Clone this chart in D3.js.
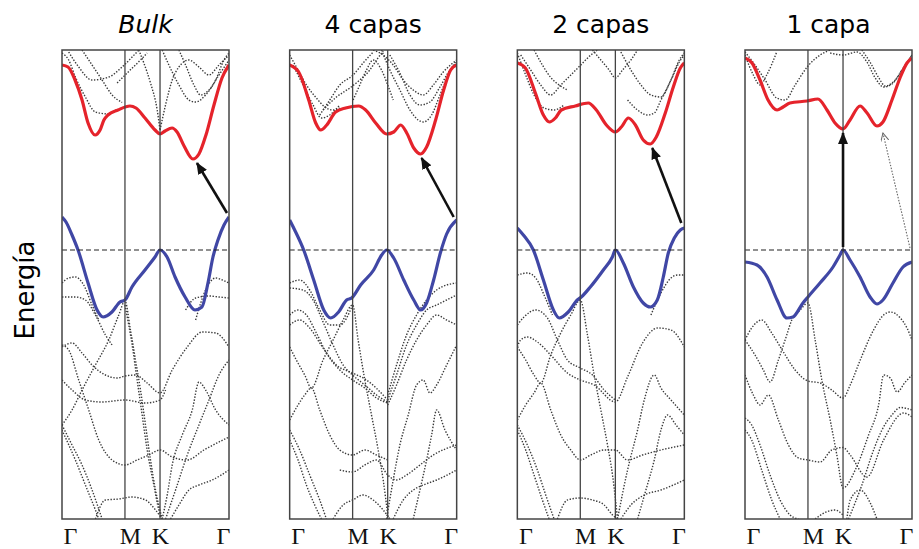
<!DOCTYPE html>
<html>
<head>
<meta charset="utf-8">
<script src="https://cdn.jsdelivr.net/npm/d3@7"></script>
<style>
body { margin: 0; background: #fff; }
</style>
</head>
<body>
<svg class="chart"></svg>
<script>
// k = fraction of the path Γ-M-K-Γ, E in eV (0 = top of valence band)
var kTicks = [0, 0.377, 0.587, 1];
var kLabels = ["Γ", "M", "K", "Γ"];
var titles = ["Bulk", "4 capas", "2 capas", "1 capa"];

var cbBulk = [[0,3.70],[0.036,3.66],[0.078,3.40],[0.12,3.00],[0.156,2.54],[0.198,2.30],[0.228,2.40],[0.251,2.60],[0.275,2.70],[0.335,2.80],[0.407,2.88],[0.443,2.84],[0.497,2.64],[0.557,2.40],[0.587,2.32],[0.617,2.38],[0.659,2.44],[0.689,2.36],[0.731,2.08],[0.784,1.82],[0.82,1.92],[0.862,2.30],[0.91,2.90],[0.958,3.44],[1,3.70]];
var vbBulk = [[0,0.66],[0.024,0.56],[0.06,0.30],[0.096,0.00],[0.156,-0.66],[0.21,-1.20],[0.246,-1.34],[0.299,-1.24],[0.347,-1.04],[0.377,-1.00],[0.419,-0.74],[0.497,-0.40],[0.557,-0.14],[0.587,0.00],[0.629,-0.14],[0.677,-0.54],[0.737,-0.94],[0.796,-1.20],[0.838,-1.14],[0.874,-0.66],[0.904,-0.14],[0.934,0.20],[0.97,0.50],[1,0.66]];
var otherBulk = [
  [[0,3.94],[0.04,3.8],[0.08,3.46],[0.14,3.06],[0.2,2.76],[0.28,2.72],[0.33,2.82]],
  [[0.04,3.96],[0.1,3.66],[0.18,3.4],[0.28,3.46],[0.36,3.66],[0.42,3.86],[0.46,4.0]],
  [[0.12,4.0],[0.18,3.7],[0.24,3.4],[0.3,3.1],[0.36,2.95]],
  [[0.33,3.34],[0.39,3.54],[0.47,3.8],[0.51,3.94]],
  [[0.46,4.0],[0.49,3.74],[0.53,3.34],[0.57,2.8],[0.587,2.4]],
  [[0.587,2.4],[0.62,2.9],[0.66,3.4],[0.7,3.66],[0.76,3.8],[0.82,3.66],[0.88,3.5],[0.94,3.7],[1,3.9]],
  [[0.6,4.0],[0.64,3.7],[0.7,3.3],[0.76,3.0],[0.8,2.96],[0.86,3.1],[0.92,3.4],[0.97,3.8],[1,3.94]],
  [[0.7,4.0],[0.74,3.7],[0.79,3.3],[0.83,3.1],[0.88,3.2],[0.94,3.5],[1,3.8]],
  [[0,-0.66],[0.04,-0.56],[0.08,-0.54],[0.13,-0.7],[0.18,-1.1],[0.22,-1.4]],
  [[0,-0.94],[0.08,-0.94],[0.14,-1.0],[0.2,-1.3],[0.26,-1.7],[0.3,-1.9]],
  [[0,-1.94],[0.06,-1.86],[0.12,-2.06],[0.18,-2.3],[0.26,-2.5],[0.33,-2.56],[0.377,-2.52],[0.44,-2.5],[0.51,-2.66],[0.587,-2.86],[0.66,-2.4],[0.75,-1.94],[0.84,-1.64],[0.92,-1.66],[1,-1.94]],
  [[0,-3.5],[0.06,-3.2],[0.12,-2.8],[0.2,-2.3],[0.28,-1.8],[0.34,-1.3],[0.377,-1.02],[0.41,-1.6],[0.44,-2.2],[0.47,-2.8],[0.5,-3.5],[0.53,-4.2],[0.56,-4.8],[0.6,-5.38]],
  [[0.377,-1.1],[0.42,-1.9],[0.45,-2.6],[0.48,-3.3],[0.51,-4.0],[0.55,-4.7],[0.58,-5.2],[0.6,-5.38]],
  [[0,-1.9],[0.04,-2.0],[0.1,-2.6],[0.16,-3.2],[0.22,-3.8],[0.3,-4.2],[0.377,-4.3],[0.45,-4.2],[0.52,-4.1],[0.587,-4.0],[0.66,-4.14],[0.75,-4.2],[0.85,-4.0],[1,-3.74]],
  [[0,-2.6],[0.06,-2.8],[0.14,-3.0],[0.24,-3.04],[0.377,-3.0],[0.5,-3.06],[0.587,-3.0],[0.62,-2.8]],
  [[0,-3.5],[0.06,-3.9],[0.12,-4.3],[0.18,-4.8],[0.24,-5.38]],
  [[0,-3.6],[0.08,-4.2],[0.14,-4.7],[0.2,-5.2],[0.22,-5.38]],
  [[0.2,-5.38],[0.26,-5.0],[0.34,-4.98],[0.42,-4.94],[0.5,-5.0],[0.56,-5.2],[0.6,-5.38]],
  [[0.6,-5.38],[0.63,-4.9],[0.66,-4.3],[0.72,-3.7],[0.78,-3.2],[0.82,-2.64],[0.86,-2.8],[0.92,-3.2],[1,-3.5]],
  [[0.62,-5.38],[0.68,-4.8],[0.75,-4.1],[0.82,-3.5],[0.88,-3.0],[0.94,-2.5],[1,-2.2]],
  [[0.65,-5.38],[0.7,-5.1],[0.76,-4.8],[0.82,-4.7],[0.9,-4.6],[1,-4.4]],
  [[0.74,-1.2],[0.8,-0.96],[0.88,-0.92],[0.94,-0.94],[1,-0.96]],
  [[0.8,-1.4],[0.86,-0.8],[0.92,-0.56],[0.96,-0.6],[1,-0.66]]
];
var arrowsBulk = [[[0.988,0.74],[0.808,1.74]]];

var cb4 = [[0,3.70],[0.054,3.56],[0.114,3.00],[0.156,2.54],[0.186,2.40],[0.222,2.50],[0.275,2.76],[0.335,2.84],[0.413,2.88],[0.455,2.80],[0.515,2.54],[0.581,2.32],[0.623,2.36],[0.665,2.50],[0.701,2.34],[0.743,2.04],[0.784,1.92],[0.82,2.06],[0.874,2.60],[0.922,3.20],[0.964,3.60],[1,3.70]];
var vb4 = [[0,0.60],[0.03,0.40],[0.084,0.00],[0.144,-0.60],[0.204,-1.20],[0.246,-1.36],[0.293,-1.24],[0.341,-1.00],[0.371,-0.96],[0.425,-0.70],[0.503,-0.40],[0.551,-0.10],[0.581,0.00],[0.623,-0.16],[0.683,-0.60],[0.743,-1.00],[0.784,-1.20],[0.82,-1.06],[0.862,-0.60],[0.904,-0.04],[0.94,0.32],[1,0.60]];
var other4 = [
  [[0,3.9],[0.05,3.6],[0.1,3.3],[0.16,3.04],[0.21,2.86],[0.26,2.8],[0.3,2.84]],
  [[0.02,3.7],[0.08,3.3],[0.14,2.9],[0.19,2.64],[0.24,2.7],[0.3,2.9]],
  [[0.18,2.7],[0.24,3.0],[0.3,3.3],[0.38,3.5],[0.44,3.74],[0.5,3.96]],
  [[0.2,2.8],[0.28,3.06],[0.36,3.24],[0.42,3.4],[0.48,3.6],[0.52,3.8],[0.56,3.98]],
  [[0.38,3.0],[0.42,3.3],[0.46,3.6],[0.5,3.8],[0.55,3.6],[0.587,3.3],[0.62,3.0]],
  [[0.5,4.0],[0.56,3.9],[0.62,3.7],[0.68,3.4],[0.74,3.2],[0.8,3.1],[0.86,3.3],[0.92,3.56],[1,3.8]],
  [[0.55,4.0],[0.6,3.6],[0.66,3.2],[0.72,2.8],[0.77,2.6],[0.8,2.56],[0.85,2.7],[0.9,3.1],[0.95,3.5],[1,3.8]],
  [[0.6,3.9],[0.66,3.54],[0.72,3.1],[0.78,2.9],[0.84,2.96],[0.9,3.26],[0.96,3.6],[1,3.74]],
  [[0,-0.66],[0.06,-0.6],[0.12,-0.8],[0.18,-1.2],[0.24,-1.5],[0.3,-1.5],[0.377,-1.1]],
  [[0,-0.76],[0.08,-0.8],[0.14,-1.0],[0.2,-1.44],[0.26,-1.9],[0.32,-2.3],[0.377,-2.5],[0.45,-2.7],[0.52,-2.9],[0.587,-3.04]],
  [[0,-1.3],[0.05,-1.2],[0.1,-1.3],[0.16,-1.66],[0.22,-2.06],[0.3,-2.4],[0.377,-2.6],[0.45,-2.76],[0.52,-2.96],[0.587,-3.06]],
  [[0,-1.5],[0.06,-1.4],[0.12,-1.56],[0.2,-1.96],[0.28,-2.3],[0.377,-2.46],[0.46,-2.6],[0.587,-3.0]],
  [[0,-1.94],[0.04,-2.2],[0.09,-2.5],[0.13,-2.76],[0.2,-2.2],[0.26,-1.8],[0.32,-1.4],[0.377,-1.1],[0.41,-1.8],[0.45,-2.6],[0.49,-3.3],[0.53,-4.0],[0.56,-4.6],[0.59,-5.38]],
  [[0,-3.4],[0.05,-3.1],[0.09,-2.9],[0.13,-2.76],[0.18,-3.2],[0.24,-3.7],[0.3,-4.0],[0.377,-4.1],[0.45,-4.0],[0.52,-4.1],[0.587,-4.2]],
  [[0.58,-5.38],[0.62,-4.6],[0.66,-3.9],[0.71,-3.3],[0.76,-2.7],[0.8,-2.6],[0.84,-2.86],[0.88,-2.7],[0.94,-2.3],[1,-1.9]],
  [[0.74,-5.38],[0.78,-4.8],[0.82,-4.2],[0.85,-3.7],[0.88,-3.2],[0.93,-3.6],[1,-4.0]],
  [[0.587,-3.0],[0.64,-2.5],[0.7,-1.9],[0.76,-1.5],[0.82,-1.2],[0.88,-1.1],[0.94,-1.0],[1,-0.9]],
  [[0.587,-3.1],[0.64,-2.7],[0.7,-2.2],[0.76,-1.8],[0.82,-1.5],[0.88,-1.3],[0.94,-1.4],[1,-1.5]],
  [[0.587,-2.9],[0.64,-2.3],[0.7,-1.7],[0.76,-1.3],[0.82,-1.0],[0.88,-0.8],[0.94,-0.7],[1,-0.66]],
  [[0,-3.6],[0.06,-4.0],[0.12,-4.5],[0.18,-5.0],[0.22,-5.38]],
  [[0,-3.8],[0.05,-4.2],[0.1,-4.7],[0.15,-5.1],[0.19,-5.38]],
  [[0.26,-5.38],[0.32,-5.1],[0.377,-5.0],[0.44,-4.9],[0.5,-5.0],[0.56,-5.2],[0.6,-5.38]],
  [[0.3,-4.4],[0.377,-4.44],[0.45,-4.3],[0.52,-4.2],[0.587,-4.5],[0.64,-4.6],[0.7,-4.5],[0.78,-4.3],[0.86,-4.1],[1,-3.9]],
  [[0.62,-5.38],[0.68,-5.0],[0.74,-4.8],[0.8,-4.7],[0.88,-4.6],[1,-4.4]]
];
var arrows4 = [[[0.982,0.66],[0.79,1.84]]];

var cb2 = [[0,3.74],[0.048,3.64],[0.108,3.14],[0.156,2.70],[0.192,2.56],[0.228,2.64],[0.263,2.80],[0.347,2.88],[0.425,2.94],[0.473,2.80],[0.533,2.50],[0.587,2.36],[0.623,2.46],[0.665,2.64],[0.707,2.50],[0.754,2.20],[0.796,2.12],[0.832,2.26],[0.886,2.74],[0.934,3.26],[0.976,3.64],[1,3.74]];
var vb2 = [[0,0.44],[0.036,0.30],[0.096,0.00],[0.156,-0.60],[0.216,-1.20],[0.251,-1.36],[0.305,-1.24],[0.359,-1.00],[0.383,-0.94],[0.437,-0.74],[0.515,-0.40],[0.569,-0.14],[0.587,0.00],[0.635,-0.26],[0.695,-0.74],[0.754,-1.06],[0.796,-1.14],[0.838,-1.00],[0.874,-0.54],[0.904,-0.06],[0.94,0.24],[0.976,0.40],[1,0.44]];
var other2 = [
  [[0,3.94],[0.05,3.5],[0.1,3.1],[0.16,2.84],[0.22,2.8],[0.28,2.9]],
  [[0.02,3.9],[0.08,3.6],[0.14,3.3],[0.2,3.1],[0.26,3.3],[0.32,3.5],[0.38,3.7],[0.44,3.9],[0.48,4.0]],
  [[0.1,4.0],[0.15,3.7],[0.2,3.45],[0.25,3.3],[0.3,3.2]],
  [[0.45,4.0],[0.5,3.8],[0.55,3.6],[0.587,3.44],[0.63,3.6],[0.68,3.8],[0.72,4.0]],
  [[0.62,3.96],[0.68,3.6],[0.74,3.3],[0.8,3.1],[0.86,3.06],[0.92,3.4],[0.97,3.76],[1,3.9]],
  [[0.66,3.0],[0.72,2.8],[0.78,2.7],[0.82,2.74],[0.86,3.0],[0.92,3.4],[0.97,3.8],[1,3.94]],
  [[0,-0.5],[0.06,-0.46],[0.11,-0.56],[0.16,-0.9],[0.21,-1.3]],
  [[0,-1.5],[0.04,-1.34],[0.11,-1.2],[0.18,-1.36],[0.24,-1.8],[0.3,-2.2],[0.377,-2.36],[0.45,-2.5],[0.52,-2.8],[0.587,-3.0]],
  [[0,-1.94],[0.02,-1.8],[0.06,-1.74],[0.12,-1.84],[0.2,-2.1],[0.3,-2.46],[0.377,-2.6],[0.46,-2.7],[0.587,-3.04],[0.66,-2.54],[0.75,-1.86],[0.84,-1.56],[0.92,-1.6],[1,-1.94]],
  [[0,-1.94],[0.05,-2.2],[0.1,-2.5],[0.14,-2.66],[0.2,-2.1],[0.26,-1.66],[0.32,-1.3],[0.377,-1.0],[0.42,-1.7],[0.46,-2.5],[0.5,-3.2],[0.54,-3.9],[0.57,-4.5],[0.6,-5.38]],
  [[0,-3.4],[0.05,-3.1],[0.1,-2.86],[0.14,-2.66],[0.2,-3.2],[0.26,-3.7],[0.32,-4.0],[0.377,-4.2],[0.44,-4.1],[0.52,-4.0],[0.587,-4.0],[0.66,-4.2],[0.75,-4.1],[0.86,-4.0],[1,-3.9]],
  [[0.6,-5.38],[0.66,-4.4],[0.72,-3.6],[0.76,-3.0],[0.82,-2.5],[0.86,-2.76],[0.92,-3.0],[1,-3.3]],
  [[0.72,-5.38],[0.77,-4.8],[0.82,-4.2],[0.86,-3.6],[0.9,-3.3],[0.95,-3.5],[1,-3.7]],
  [[0,-3.5],[0.06,-3.9],[0.12,-4.4],[0.17,-4.9],[0.22,-5.38]],
  [[0,-3.6],[0.05,-4.0],[0.1,-4.5],[0.15,-5.0],[0.19,-5.38]],
  [[0.24,-5.38],[0.3,-5.0],[0.377,-4.96],[0.45,-5.0],[0.52,-5.1],[0.57,-5.3],[0.6,-5.38]],
  [[0.62,-5.38],[0.68,-5.1],[0.76,-4.9],[0.86,-4.8],[1,-4.6]],
  [[0.8,-1.3],[0.86,-0.86],[0.92,-0.56],[0.96,-0.5],[1,-0.5]]
];
var arrows2 = [[[0.982,0.54],[0.808,2.04]]];

var cb1 = [[0,3.84],[0.042,3.74],[0.09,3.40],[0.138,3.00],[0.192,2.80],[0.228,2.86],[0.269,2.94],[0.371,2.98],[0.437,3.02],[0.491,2.80],[0.539,2.54],[0.587,2.42],[0.629,2.60],[0.689,2.88],[0.731,2.74],[0.79,2.48],[0.826,2.56],[0.88,3.00],[0.928,3.44],[0.97,3.74],[1,3.84]];
var vb1 = [[0,-0.24],[0.072,-0.30],[0.132,-0.54],[0.192,-1.00],[0.251,-1.36],[0.287,-1.34],[0.347,-1.06],[0.377,-0.94],[0.449,-0.66],[0.527,-0.34],[0.569,-0.10],[0.587,0.00],[0.629,-0.20],[0.689,-0.54],[0.749,-0.94],[0.79,-1.08],[0.826,-1.00],[0.886,-0.66],[0.946,-0.34],[1,-0.24]];
var other1 = [
  [[0,3.96],[0.06,3.7],[0.12,3.4],[0.19,3.04],[0.24,3.0],[0.3,3.3],[0.377,3.68],[0.45,3.9],[0.51,4.0]],
  [[0,3.9],[0.05,3.5],[0.09,3.3],[0.13,3.5],[0.19,3.96]],
  [[0.51,3.94],[0.587,3.9],[0.67,3.96],[0.73,3.76],[0.78,3.44],[0.83,3.26],[0.88,3.32],[0.94,3.6],[1,3.9]],
  [[0.7,4.0],[0.75,3.75],[0.8,3.45],[0.84,3.28],[0.9,3.4],[0.95,3.65],[1,3.9]],
  [[0,-1.8],[0.04,-1.56],[0.1,-1.4],[0.16,-1.66],[0.23,-2.04],[0.3,-2.4],[0.377,-2.62],[0.45,-2.66],[0.52,-2.8],[0.587,-2.96],[0.63,-2.7],[0.69,-2.2],[0.77,-1.6],[0.83,-1.3],[0.87,-1.24],[0.93,-1.36],[0.97,-1.56],[1,-1.8]],
  [[0,-1.8],[0.06,-2.1],[0.11,-2.4],[0.15,-2.64],[0.2,-2.2],[0.25,-1.7],[0.28,-1.4],[0.33,-1.2],[0.377,-1.06],[0.42,-1.8],[0.46,-2.6],[0.51,-3.4],[0.55,-4.1],[0.587,-4.76],[0.66,-4.4],[0.74,-3.7],[0.8,-3.1],[0.83,-2.5],[0.87,-2.56],[0.91,-2.84],[0.96,-2.64],[1,-2.5]],
  [[0,-2.5],[0.05,-2.9],[0.09,-3.1],[0.14,-2.9],[0.2,-3.4],[0.26,-3.9],[0.32,-4.16],[0.377,-4.2],[0.45,-4.24],[0.52,-4.0],[0.587,-3.95],[0.63,-4.1],[0.73,-4.54],[0.83,-3.8],[0.95,-3.26],[1,-3.34]],
  [[0,-3.36],[0.04,-3.5],[0.09,-3.9],[0.15,-4.5],[0.21,-5.0],[0.27,-5.3],[0.32,-5.38]],
  [[0,-3.6],[0.04,-3.8],[0.1,-4.4],[0.16,-5.0],[0.21,-5.38]],
  [[0.61,-5.38],[0.63,-5.0],[0.69,-4.8],[0.75,-5.06],[0.79,-5.38]],
  [[0.42,-5.38],[0.48,-5.25],[0.54,-5.2],[0.587,-5.3]],
  [[0.62,-5.38],[0.7,-4.7],[0.77,-4.0],[0.82,-3.6],[0.88,-3.3],[0.93,-3.15],[1,-3.2]]
];
var arrows1 = [[[0.587,0.06],[0.587,2.34]]];
var arrowsDotted1 = [[[0.988,0.04],[0.826,2.34]]];

var panels = [
  { title: titles[0], cb: cbBulk, vb: vbBulk, other: otherBulk, arrows: arrowsBulk, dotted: [] },
  { title: titles[1], cb: cb4, vb: vb4, other: other4, arrows: arrows4, dotted: [] },
  { title: titles[2], cb: cb2, vb: vb2, other: other2, arrows: arrows2, dotted: [] },
  { title: titles[3], cb: cb1, vb: vb1, other: other1, arrows: arrows1, dotted: arrowsDotted1 }
];

var width = 919, height = 549,
    plotTop = 50, plotBottom = 519,
    panelW = 167;

var svg = d3.select(".chart")
    .attr("width", width)
    .attr("height", height);

var defs = svg.append("defs");
defs.append("marker")
    .attr("id", "head")
    .attr("markerUnits", "userSpaceOnUse")
    .attr("markerWidth", 12).attr("markerHeight", 10)
    .attr("refX", 11).attr("refY", 5)
    .attr("orient", "auto")
  .append("path")
    .attr("d", "M0,0L12,5L0,10z")
    .attr("fill", "#111");
defs.append("marker")
    .attr("id", "headOpen")
    .attr("markerUnits", "userSpaceOnUse")
    .attr("markerWidth", 10).attr("markerHeight", 9)
    .attr("refX", 8).attr("refY", 4)
    .attr("orient", "auto")
  .append("path")
    .attr("d", "M0,0L8,4L0,8")
    .attr("fill", "none")
    .attr("stroke", "#666")
    .attr("stroke-width", 1);

var panelX = d3.scaleLinear().domain([0, 3]).range([62, 745]);
var y = d3.scaleLinear().domain([-5.38, 4]).range([plotBottom, plotTop]);

panels.forEach(function (p, i) {
  var left = panelX(i);
  var x = d3.scaleLinear().domain([0, 1]).range([left, left + panelW]);
  var line = d3.line()
      .x(function (d) { return x(d[0]); })
      .y(function (d) { return y(d[1]); })
      .curve(d3.curveMonotoneX);

  var g = svg.append("g");

  defs.append("clipPath").attr("id", "clip" + i)
    .append("rect")
      .attr("x", left).attr("y", plotTop)
      .attr("width", panelW).attr("height", plotBottom - plotTop);

  var bands = g.append("g").attr("clip-path", "url(#clip" + i + ")");

  bands.selectAll(".other")
    .data(p.other)
    .enter().append("path")
      .attr("d", line)
      .attr("fill", "none")
      .attr("stroke", "#3a3a3a")
      .attr("stroke-width", 1.4)
      .attr("stroke-dasharray", "1.4,1.6");

  // M and K lines
  g.selectAll(".sym")
    .data(kTicks.slice(1, 3))
    .enter().append("line")
      .attr("x1", x).attr("x2", x)
      .attr("y1", plotTop).attr("y2", plotBottom)
      .attr("stroke", "#444")
      .attr("stroke-width", 1.3);

  // Fermi level
  g.append("line")
      .attr("x1", x(0)).attr("x2", x(1))
      .attr("y1", y(0)).attr("y2", y(0))
      .attr("stroke", "#222")
      .attr("stroke-width", 1.1)
      .attr("stroke-dasharray", "5,3");

  bands.append("path")
      .attr("d", line(p.cb))
      .attr("fill", "none")
      .attr("stroke", "#e5232b")
      .attr("stroke-width", 3.2);

  bands.append("path")
      .attr("d", line(p.vb))
      .attr("fill", "none")
      .attr("stroke", "#4047a5")
      .attr("stroke-width", 3.2);

  g.append("rect")
      .attr("x", left).attr("y", plotTop)
      .attr("width", panelW).attr("height", plotBottom - plotTop)
      .attr("fill", "none")
      .attr("stroke", "#444")
      .attr("stroke-width", 1.5);

  g.selectAll(".arrow")
    .data(p.arrows)
    .enter().append("line")
      .attr("x1", function (d) { return x(d[0][0]); })
      .attr("y1", function (d) { return y(d[0][1]); })
      .attr("x2", function (d) { return x(d[1][0]); })
      .attr("y2", function (d) { return y(d[1][1]); })
      .attr("stroke", "#111")
      .attr("stroke-width", 2.6)
      .attr("marker-end", "url(#head)");

  g.selectAll(".darrow")
    .data(p.dotted)
    .enter().append("line")
      .attr("x1", function (d) { return x(d[0][0]); })
      .attr("y1", function (d) { return y(d[0][1]); })
      .attr("x2", function (d) { return x(d[1][0]); })
      .attr("y2", function (d) { return y(d[1][1]); })
      .attr("stroke", "#666")
      .attr("stroke-width", 1.1)
      .attr("stroke-dasharray", "1.5,1.5")
      .attr("marker-end", "url(#headOpen)");

  g.append("text")
      .attr("x", x(0.5))
      .attr("y", 33)
      .attr("text-anchor", "middle")
      .attr("font-family", "DejaVu Sans, sans-serif")
      .attr("font-size", 25)
      .attr("font-style", i === 0 ? "italic" : "normal")
      .text(p.title);

  var axis = d3.axisBottom(x)
      .tickValues(kTicks)
      .tickFormat(function (d, j) { return kLabels[j]; })
      .tickSize(0);

  var shift = [8, 5, 0, -6];
  var ax = g.append("g")
      .attr("transform", "translate(0," + plotBottom + ")")
      .call(axis);
  ax.select(".domain").remove();
  ax.selectAll("text")
      .attr("dy", 0)
      .attr("y", 25)
      .attr("dx", function (d, j) { return shift[j]; })
      .attr("font-family", "Liberation Serif, serif")
      .attr("font-size", 24)
      .attr("fill", "#111");
});

svg.append("text")
    .attr("transform", "translate(34,290) rotate(-90)")
    .attr("text-anchor", "middle")
    .attr("font-family", "DejaVu Sans, sans-serif")
    .attr("font-size", 26)
    .text("Energía");
</script>
</body>
</html>
